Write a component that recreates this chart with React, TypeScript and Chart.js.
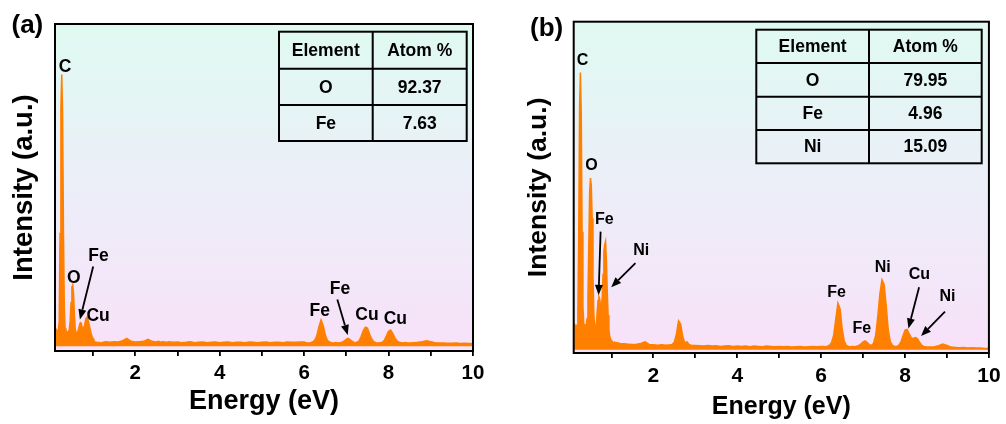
import { useEffect, useRef } from 'react';
import { Chart, registerables } from 'chart.js';

Chart.register(...registerables);

const FONT = '"Liberation Sans", Arial, Helvetica, sans-serif';

// Energy grid (eV)
const energy = [
  0.10, 0.12, 0.14, 0.16, 0.18, 0.20, 0.22, 0.24, 0.26, 0.28,
  0.30, 0.32, 0.34, 0.36, 0.38, 0.40, 0.42, 0.44, 0.46, 0.48,
  0.50, 0.52, 0.54, 0.56, 0.58, 0.60, 0.62, 0.64, 0.66, 0.68,
  0.70, 0.72, 0.74, 0.76, 0.78, 0.80, 0.82, 0.84, 0.86, 0.88,
  0.90, 0.92, 0.94, 0.96, 0.98, 1.00, 1.02, 1.04, 1.06, 1.08,
  1.10, 1.12, 1.14, 1.16, 1.18, 1.20,
  1.3, 1.4, 1.5, 1.6, 1.7, 1.8, 1.9, 2.0, 2.1, 2.2, 2.3, 2.4,
  2.45, 2.50, 2.55, 2.60, 2.65, 2.70, 2.75, 2.80, 2.85, 2.90,
  3.0, 3.1, 3.2, 3.3, 3.4, 3.5, 3.6, 3.7, 3.8, 3.9,
  4.0, 4.1, 4.2, 4.3, 4.4, 4.5, 4.6, 4.7, 4.8, 4.9,
  5.0, 5.1, 5.2, 5.3, 5.4, 5.5, 5.6, 5.7, 5.8, 5.9, 6.0,
  6.05, 6.10, 6.15, 6.20, 6.25, 6.30, 6.35, 6.40, 6.45, 6.50,
  6.55, 6.60, 6.65, 6.70, 6.75, 6.80, 6.85, 6.90, 6.95, 7.00,
  7.05, 7.10, 7.15, 7.20, 7.25, 7.30, 7.35, 7.40, 7.45, 7.50,
  7.55, 7.60, 7.65, 7.70, 7.75, 7.80, 7.85, 7.90, 7.95, 8.00,
  8.05, 8.10, 8.15, 8.20, 8.25, 8.30, 8.35, 8.40, 8.45, 8.50,
  8.6, 8.7, 8.8, 8.9, 9.0, 9.1, 9.2, 9.3, 9.4, 9.5, 9.6, 9.7, 9.8, 9.9, 10.0,
];

// Panel (a) intensity (a.u.)
const intensityA = [
  5.6, 5.3, 5.0, 4.8, 4.9, 7.5, 35, 74, 84.3, 72,
  36, 12, 5.6, 4.6, 4.4, 4.5, 4.6, 5.2, 8.0, 13.5,
  18.3, 19, 16, 9.5, 5.2, 4.2, 4.1, 4.5, 5.5, 6.6,
  7.3, 7.1, 6.0, 5.1, 5.3, 6.4, 7.8, 8.7, 9.0, 8.3,
  7.2, 6.0, 4.8, 3.8, 3.0, 2.4, 1.8, 1.4, 1.2, 1.3,
  1.1, 1.0, 1.2, 1.1, 1.0, 1.1,
  1.4, 1.2, 1.4, 1.3, 1.7, 2.4, 1.5, 1.3, 1.4, 1.5, 2.1, 1.5,
  1.4, 1.3, 1.5, 1.2, 1.4, 1.3, 1.2, 1.4, 1.3, 1.2,
  1.3, 1.1, 1.2, 1.4, 1.1, 1.2, 1.3, 1.1, 1.2, 1.3,
  1.1, 1.2, 1.3, 1.1, 1.2, 1.2, 1.1, 1.3, 1.2, 1.1,
  1.2, 1.3, 1.1, 1.2, 1.2, 1.1, 1.3, 1.2, 1.2, 1.3, 1.3,
  1.1, 1.0, 1.1, 1.3, 1.8, 3.2, 6.0, 8.1, 6.5, 3.5,
  1.8, 1.3, 1.1, 1.0, 1.1, 1.0, 1.1, 1.2, 1.6, 2.2,
  2.4, 1.9, 1.4, 1.1, 1.2, 1.6, 3.0, 4.8, 5.9, 5.6,
  3.8, 2.2, 1.4, 1.1, 1.0, 1.1, 1.2, 1.8, 3.2, 4.6,
  5.0, 4.0, 2.6, 1.6, 1.2, 1.1, 1.0, 1.1, 1.0, 1.0,
  1.1, 1.2, 1.4, 1.7, 1.4, 1.1, 1.0, 1.0, 0.9, 0.9, 1.0, 0.8, 0.9, 0.8, 0.8,
];

// Panel (b) intensity (a.u.)
const intensityB = [
  7.5, 7.8, 7.2, 7.0, 7.5, 11, 35, 74, 84.5, 72,
  36, 13, 8.0, 7.3, 7.5, 7.8, 9.5, 16, 32, 48,
  52.3, 50, 40, 22, 11, 7.0, 6.6, 8.0, 11.5, 15,
  16.2, 15.5, 13.5, 13.0, 16, 23, 30, 32, 33, 27,
  18, 10.5, 6.0, 4.0, 3.2, 2.8, 2.5, 2.3, 2.2, 2.3,
  2.1, 2.2, 2.0, 2.1, 2.0, 1.9,
  1.8, 1.7, 1.6, 1.7, 1.9, 2.4, 1.6, 1.5, 1.4, 1.5, 1.4, 1.5,
  1.6, 2.4, 4.8, 8.8, 7.8, 4.0, 2.0, 2.4, 1.6, 1.4,
  1.3, 1.2, 1.1, 1.3, 1.1, 1.2, 1.0, 1.1, 1.2, 1.0,
  1.1, 1.0, 1.1, 0.9, 1.1, 1.0, 0.9, 1.1, 1.0, 0.9,
  1.0, 0.9, 1.0, 0.8, 0.9, 1.0, 0.8, 0.9, 1.0, 0.9, 1.0,
  1.0, 0.9, 1.1, 1.4, 2.2, 4.5, 9.5, 14.2, 12.5, 6.5,
  2.6, 1.3, 1.0, 0.9, 1.0, 0.9, 1.1, 1.3, 1.8, 2.4,
  2.7, 2.2, 1.5, 1.3, 2.0, 4.4, 10.0, 17.0, 21.3, 20.0,
  13.5, 6.0, 2.4, 1.3, 1.0, 1.0, 1.3, 2.3, 4.2, 6.0,
  6.2, 4.8, 3.6, 3.5, 3.7, 3.3, 2.2, 1.3, 1.0, 0.9,
  0.8, 0.9, 1.2, 1.75, 1.3, 0.8, 0.7, 0.6, 0.7, 0.5, 0.6, 0.5, 0.5, 0.4, 0.4,
];

const xTickValues = [1, 2, 3, 4, 5, 6, 7, 8, 9, 10];

const tableHeader = ['Element', 'Atom %'];
const tableElementsA = ['O', 'Fe'];
const tableAtomA = ['92.37', '7.63'];
const tableElementsB = ['O', 'Fe', 'Ni'];
const tableAtomB = ['79.95', '4.96', '15.09'];

// Peak labels: text and position in data coordinates (energy, intensity)
const peakTextA = ['C', 'O', 'Fe', 'Cu', 'Fe', 'Fe', 'Cu', 'Cu'];
const peakXA = [0.339, 0.543, 1.13, 1.12, 6.37, 6.85, 7.49, 8.16];
const peakYA = [86.7, 21.0, 27.8, 9.4, 10.85, 17.7, 9.5, 8.5];

const peakTextB = ['C', 'O', 'Fe', 'Ni', 'Fe', 'Fe', 'Ni', 'Cu', 'Ni'];
const peakXB = [0.309, 0.523, 0.828, 1.711, 6.366, 6.97, 7.47, 8.34, 9.01];
const peakYB = [88.0, 56.0, 39.7, 30.3, 17.5, 6.5, 24.9, 23.0, 16.2];

// Arrows: [tailEnergy, tailIntensity, headEnergy, headIntensity]
const arrowsA = [
  [1.005, 24.7, 0.69, 8.3],
  [6.787, 14.5, 7.033, 3.5],
];
const arrowsB = [
  [0.741, 36.0, 0.694, 16.7],
  [1.572, 26.4, 0.995, 19.05],
  [8.335, 19.05, 8.081, 6.5],
  [8.952, 11.6, 8.382, 4.2],
];

type PanelCfg = {
  letter: string;
  letterX: number;
  letterY: number;
  labelFont: number;
  texts: string[];
  xs: number[];
  ys: number[];
  arrows: number[][];
  table: { x0: number; xm: number; x1: number; rows: number[]; elements: string[]; atoms: string[] };
};

function makePlugin(cfg: PanelCfg) {
  return {
    id: 'edsDecor',
    beforeDraw(chart: any) {
      const { ctx, chartArea: a } = chart;
      const g = ctx.createLinearGradient(0, a.top, 0, a.bottom);
      g.addColorStop(0, '#DFFAF1');
      g.addColorStop(0.5, '#ECEEF8');
      g.addColorStop(1, '#F8E1F9');
      ctx.save();
      ctx.fillStyle = g;
      ctx.fillRect(a.left, a.top, a.right - a.left, a.bottom - a.top);
      ctx.restore();
    },
    afterDraw(chart: any) {
      const { ctx, chartArea: a } = chart;
      const xs = chart.scales.x;
      const ys = chart.scales.y;
      ctx.save();
      // plot frame
      ctx.strokeStyle = '#000';
      ctx.lineWidth = 2;
      ctx.strokeRect(a.left, a.top, a.right - a.left, a.bottom - a.top);

      // arrows
      ctx.fillStyle = '#000';
      ctx.lineWidth = 1.8;
      cfg.arrows.forEach(([ex1, vy1, ex2, vy2]) => {
        const x1 = xs.getPixelForValue(ex1);
        const y1 = ys.getPixelForValue(vy1);
        const x2 = xs.getPixelForValue(ex2);
        const y2 = ys.getPixelForValue(vy2);
        const ang = Math.atan2(y2 - y1, x2 - x1);
        const hl = 10;
        const hw = 4;
        const bx = x2 - hl * Math.cos(ang);
        const by = y2 - hl * Math.sin(ang);
        ctx.beginPath();
        ctx.moveTo(x1, y1);
        ctx.lineTo(bx, by);
        ctx.stroke();
        ctx.beginPath();
        ctx.moveTo(x2, y2);
        ctx.lineTo(bx + hw * Math.sin(ang), by - hw * Math.cos(ang));
        ctx.lineTo(bx - hw * Math.sin(ang), by + hw * Math.cos(ang));
        ctx.closePath();
        ctx.fill();
      });

      // peak labels
      ctx.font = `bold ${cfg.labelFont}px ${FONT}`;
      ctx.textAlign = 'center';
      ctx.textBaseline = 'middle';
      cfg.texts.forEach((t, i) => {
        ctx.fillText(t, xs.getPixelForValue(cfg.xs[i]), ys.getPixelForValue(cfg.ys[i]));
      });

      // table
      const tb = cfg.table;
      ctx.lineWidth = 2;
      ctx.strokeRect(tb.x0, tb.rows[0], tb.x1 - tb.x0, tb.rows[tb.rows.length - 1] - tb.rows[0]);
      ctx.beginPath();
      ctx.moveTo(tb.xm, tb.rows[0]);
      ctx.lineTo(tb.xm, tb.rows[tb.rows.length - 1]);
      for (let r = 1; r < tb.rows.length - 1; r++) {
        ctx.moveTo(tb.x0, tb.rows[r]);
        ctx.lineTo(tb.x1, tb.rows[r]);
      }
      ctx.stroke();
      ctx.font = `bold 17.5px ${FONT}`;
      const c1 = (tb.x0 + tb.xm) / 2;
      const c2 = (tb.xm + tb.x1) / 2;
      const rowsText = [tableHeader, ...tb.elements.map((e, i) => [e, tb.atoms[i]])];
      rowsText.forEach((row, r) => {
        const cy = (tb.rows[r] + tb.rows[r + 1]) / 2 + 1;
        ctx.fillText(row[0], c1, cy);
        ctx.fillText(row[1], c2, cy);
      });

      // panel letter
      ctx.font = `bold 26px ${FONT}`;
      ctx.textAlign = 'left';
      ctx.textBaseline = 'alphabetic';
      ctx.fillText(cfg.letter, cfg.letterX, cfg.letterY);
      ctx.restore();
    },
  };
}

type AxisCfg = {
  yMin: number;
  yTitleSize: number;
  yTitlePad: number;
  xTickSize: number;
  xTickPad: number;
  xTitleSize: number;
  xTitlePadTop: number;
  xTitlePadBottom: number;
  padding: { left: number; right: number; top: number; bottom: number };
};

function buildChart(canvas: HTMLCanvasElement, values: number[], axis: AxisCfg, panel: PanelCfg) {
  return new Chart(canvas, {
    type: 'line',
    data: {
      datasets: [
        {
          data: energy.map((e, i) => ({ x: e, y: values[i] })),
          borderColor: '#FF8000',
          backgroundColor: '#FF8000',
          borderWidth: 1.5,
          fill: 'origin',
          pointRadius: 0,
          tension: 0,
        },
      ],
    },
    options: {
      responsive: false,
      animation: false,
      devicePixelRatio: 1,
      layout: { padding: axis.padding },
      plugins: { legend: { display: false }, tooltip: { enabled: false }, title: { display: false } },
      scales: {
        x: {
          type: 'linear',
          min: 0.1,
          max: 10,
          afterBuildTicks: (sc: any) => {
            sc.ticks = xTickValues.map((v) => ({ value: v }));
          },
          ticks: {
            color: '#000',
            padding: axis.xTickPad,
            maxRotation: 0,
            autoSkip: false,
            font: { family: FONT, size: axis.xTickSize, weight: 'bold' },
            callback: (v: any) => (Number(v) % 2 === 0 ? String(v) : ''),
          },
          grid: {
            display: true,
            drawOnChartArea: false,
            drawTicks: true,
            tickLength: 5,
            color: '#000',
            lineWidth: 1.8,
          },
          border: { display: false },
          title: {
            display: true,
            text: 'Energy (eV)',
            color: '#000',
            font: { family: FONT, size: axis.xTitleSize, weight: 'bold' },
            padding: { top: axis.xTitlePadTop, bottom: axis.xTitlePadBottom },
          },
        },
        y: {
          type: 'linear',
          min: axis.yMin,
          max: 100,
          ticks: { display: false },
          grid: { display: false, drawTicks: false },
          border: { display: false },
          title: {
            display: true,
            text: 'Intensity (a.u.)',
            color: '#000',
            font: { family: FONT, size: axis.yTitleSize, weight: 'bold' },
            padding: { top: 0, bottom: axis.yTitlePad },
          },
        },
      },
    } as any,
    plugins: [makePlugin(panel) as any],
  });
}

export default function App() {
  const refA = useRef<HTMLCanvasElement>(null);
  const refB = useRef<HTMLCanvasElement>(null);

  useEffect(() => {
    const chartA = buildChart(
      refA.current!,
      intensityA,
      {
        yMin: -1.5,
        yTitleSize: 27.5,
        yTitlePad: 14.5,
        xTickSize: 20.5,
        xTickPad: 4.7,
        xTitleSize: 27,
        xTitlePadTop: -4.9,
        xTitlePadBottom: 6.5,
        padding: { left: 7.5, right: 27, top: 24, bottom: 0 },
      },
      {
        letter: '(a)',
        letterX: 11.5,
        letterY: 33,
        labelFont: 17.5,
        texts: peakTextA,
        xs: peakXA,
        ys: peakYA,
        arrows: arrowsA,
        table: { x0: 279, xm: 372.7, x1: 466.7, rows: [31.7, 68.7, 105, 141], elements: tableElementsA, atoms: tableAtomA },
      }
    );
    const chartB = buildChart(
      refB.current!,
      intensityB,
      {
        yMin: -1,
        yTitleSize: 26.5,
        yTitlePad: 19.5,
        xTickSize: 21,
        xTickPad: 5.4,
        xTitleSize: 25,
        xTitlePadTop: -2.3,
        xTitlePadBottom: 2.3,
        padding: { left: 22.4, right: 14.3, top: 21.7, bottom: 0 },
      },
      {
        letter: '(b)',
        letterX: 30,
        letterY: 36,
        labelFont: 16,
        texts: peakTextB,
        xs: peakXB,
        ys: peakYB,
        arrows: arrowsB,
        table: { x0: 256.3, xm: 369, x1: 481.7, rows: [29.7, 63, 96.7, 130, 163.3], elements: tableElementsB, atoms: tableAtomB },
      }
    );
    return () => {
      chartA.destroy();
      chartB.destroy();
    };
  }, []);

  return (
    <div style={{ position: 'fixed', left: 0, top: 0, width: 1006, height: 424, background: '#fff' }}>
      <canvas ref={refA} width={500} height={424} style={{ position: 'absolute', left: 0, top: 0 }} />
      <canvas ref={refB} width={506} height={424} style={{ position: 'absolute', left: 500, top: 0 }} />
    </div>
  );
}
